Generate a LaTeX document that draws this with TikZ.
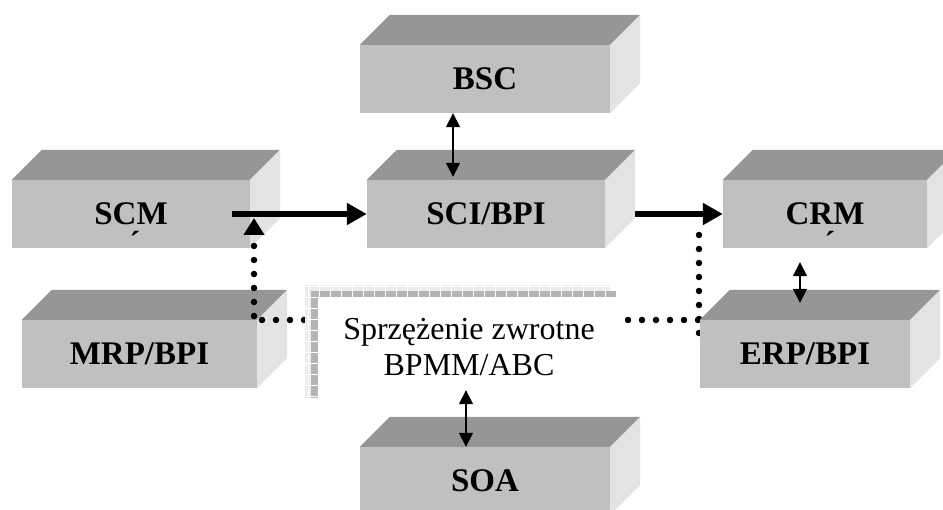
\documentclass[tikz,border=0pt]{standalone}
\usepackage{fontspec}
\setmainfont{Liberation Serif}
\usetikzlibrary{arrows.meta}

\definecolor{frontgray}{RGB}{192,192,192}
\definecolor{topgray}{RGB}{150,150,150}
\definecolor{sidegray}{RGB}{227,227,227}
\definecolor{stripgray}{RGB}{236,236,236}
\definecolor{patgray}{RGB}{180,180,180}

\tikzset{
  blok/.style={fill=frontgray, minimum height=68pt, inner sep=0pt, font=\fontsize{33}{36}\bfseries\selectfont},
  acc/.style={inner sep=0pt, anchor=base, font=\fontsize{32}{32}\bfseries\selectfont},
  mainarrow/.style={line width=6pt, -{Triangle[length=20pt,width=21pt]}},
  dbl/.style={line width=1.6pt, {Triangle[length=14pt,width=14pt]}-{Triangle[length=14pt,width=14pt]}},
  fbline/.style={line width=6.5pt, line cap=round, dash pattern=on 0pt off 14pt},
}

% width, name, x, y, label
\newcommand{\blok}[5]{%
  \node[blok, minimum width=#1pt] (#2) at (#3,#4) {#5};
  \fill[topgray] (#2.north west) -- ++(30,-30) -- ([shift={(30,-30)}]#2.north east) -- (#2.north east) -- cycle;
  \fill[sidegray] (#2.north east) -- ++(30,-30) -- ([shift={(30,-30)}]#2.south east) -- (#2.south east) -- cycle;
}

\begin{document}
\begin{tikzpicture}[x=1pt, y=-1pt]
\useasboundingbox (0,0) rectangle (943,510);
\clip (0,0) rectangle (943,510);

\blok{250}{bsc}{485}{79}{BSC}
\blok{238}{scm}{131}{214}{SCM}
\blok{238}{sci}{486}{214}{SCI/BPI}
\blok{204}{crm}{825}{214}{CRM}
\blok{235}{mrp}{139.5}{354}{MRP/BPI}
\node[acc] (scmacc) at (135,254) {´};
\node[acc] (crmacc) at (830,254) {´};

% sprzezenie zwrotne
\coordinate (lup) at (254,218);
\coordinate (lcorner) at (254,316);
\coordinate (lturn) at (262,320);
\coordinate (lend) at (305,320);
\coordinate (rstart) at (628,320);
\coordinate (rend) at (699,320);
\coordinate (rtop) at (699,235);
\coordinate (rbot) at (699,335);
\draw[fbline] (lturn) -- (lend);
\draw[fbline, -{Triangle[length=17pt,width=20pt]}] (lcorner) -- (lup);
\draw[fbline] (rstart) -- (rend);
\draw[fbline] (rtop) -- (rbot);

% ramka
\fill[stripgray] (305,285) rectangle (610,398);
\fill[patgray] (311,291) rectangle (617,398);
\draw[white, line width=0.8pt, step=11pt] (305,285) grid (617,398);
\fill[white] (318,298) rectangle (625,410);
\node[minimum width=302pt, minimum height=98pt, align=center, inner sep=0pt, font=\fontsize{32}{36}\selectfont] (fb) at (469,347) {Sprzężenie zwrotne\\BPMM/ABC};

\blok{210}{erp}{805}{354}{ERP/BPI}
\blok{250}{soa}{485}{481}{SOA}

\draw[mainarrow] ([shift={(-18,0)}]scm.east) -- (sci.west);
\draw[mainarrow] ([shift={(30,0)}]sci.east) -- (crm.west);
\draw[dbl] ([shift={(-32,0)}]bsc.south) -- ([shift={(-33,-3)}]sci.north);
\draw[dbl] ([shift={(-25,14)}]crm.south) -- ([shift={(-5,-17)}]erp.north);
\draw[dbl] ([shift={(-3,-6)}]fb.south) -- ([shift={(-19,0)}]soa.north);

\end{tikzpicture}
\end{document}
